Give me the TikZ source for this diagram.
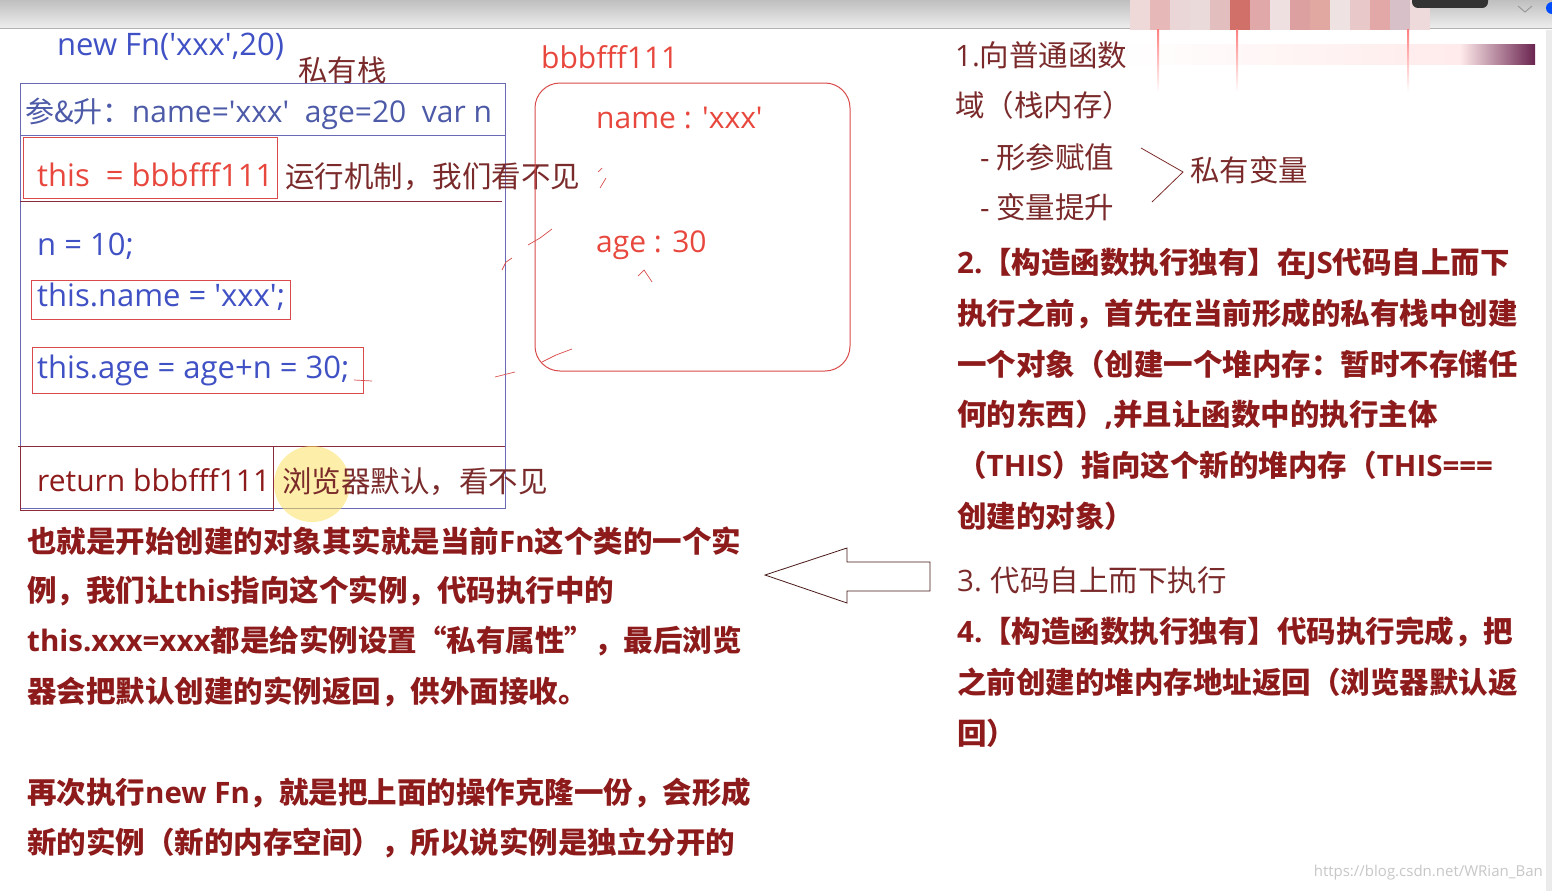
\documentclass[tikz,border=0pt]{standalone}
\usepackage{fontspec}
\setmainfont{Noto Sans CJK SC}
\newfontfamily\lat{Open Sans}
\usetikzlibrary{shadings}
\definecolor{blueT}{HTML}{3F51C4}
\definecolor{blueG}{HTML}{4D5AA8}
\definecolor{blueBox}{HTML}{6A6AB4}
\definecolor{redT}{HTML}{E8473D}
\definecolor{redBox}{HTML}{D94B4B}
\definecolor{darkred}{HTML}{8E1B1B}
\definecolor{brownT}{HTML}{7A2A2A}
\definecolor{lineDark}{HTML}{8B2A3A}
\definecolor{barEnd}{HTML}{6A2450}
\newcommand\sq{\textquotesingle}
\newcommand\lt[1]{{\lat #1}}
\tikzset{
  txt/.style={anchor=west, inner sep=0pt, font=\fontsize{29}{29}\selectfont},
  note/.style={txt, text=brownT, font=\fontsize{29.5}{29.5}\selectfont},
  bnote/.style={txt, text=darkred, font=\fontsize{29.5}{29.5}\selectfont\bfseries},
  code/.style={txt, text=blueT, font=\fontsize{31}{31}\selectfont\lat},
  obj/.style={txt, text=redT, font=\fontsize{30}{30}\selectfont\lat},
  scrib/.style={redBox, line width=0.7pt},
}
\begin{document}
\begin{tikzpicture}[x=1pt,y=-1pt]
\useasboundingbox (0,0) rectangle (1552,891);
\fill[white] (0,0) rectangle (1552,891);
% top bar
\shade[top color=black!25, bottom color=black!7] (0,0) rectangle (1552,28);
\draw[black!30] (0,28) -- (1552,28);
\foreach \x/\c in {1130/EFD8D8,1150/E6B8B8,1170/EAD6D6,1190/EADADA,1210/E2BEBE,1230/D07068,1250/E0A8A8,1270/EEE0E0,1290/DCA0A0,1310/E0A8A0,1330/EEE2E2,1350/E8C8C8,1370/E2A8A8,1390/D8C0C8,1410/EEDADA}{
  \definecolor{mc}{HTML}{\c}\fill[mc] (\x,0) rectangle ++(20,30);}
\fill[black!80,rounded corners=6pt] (1412,-10) rectangle (1488,8);
\draw[black!40,line width=1pt] (1518,6) -- (1525,12) -- (1532,6);
\fill[blue!70!cyan] (1552,8) circle (6);
\fill[black!8] (1546,30) rectangle (1552,891);
\shade[left color=white, right color=red!8!white] (1115,45) rectangle (1460,65);
\shade[left color=red!8!white, right color=barEnd] (1460,45) rectangle (1535,65);
\foreach \x in {1158,1237,1408}{\shade[top color=red!50, bottom color=white] (\x-1,30) rectangle (\x+1,92);}

% left stack
\node[code] (call) at (57,47) {new Fn(\sq xxx\sq,20)};
\node[note] (stk) at (298,70) {私有栈};
\coordinate (boxTL) at (20,83);
\coordinate (boxBR) at (505,508);
\draw[blueBox, line width=1pt] (boxTL) rectangle (boxBR);
\draw[blueBox, line width=1pt] (20,135) -- (505,135);
\node[txt, text=blueG] (args) at (25,114) {参\&升：\lt{\fontsize{30}{30}\selectfont name=\sq xxx\sq\ \ age=20\ \ var n}};
\node[draw=redBox, line width=1pt, minimum width=254pt, minimum height=61pt, anchor=north west, inner sep=0pt] (thisbox) at (23,137) {};
\node[obj, font=\fontsize{31}{31}\selectfont\lat] (this) at (37,175) {this\ \ = bbbfff111};
\node[note] (run) at (285,177) {运行机制，我们看不见};
\draw[lineDark, line width=1pt] (20,201) -- (502,201);
\node[code] (n10) at (37,246) {n = 10;};
\node[draw=redBox, line width=1pt, minimum width=259pt, minimum height=39pt, anchor=north west, inner sep=0pt] (nmbox) at (31,280) {};
\node[code] (nm) at (37,297) {this.name = \sq xxx\sq;};
\node[draw=redBox, line width=1pt, minimum width=331pt, minimum height=46pt, anchor=north west, inner sep=0pt] (agebox) at (32,347) {};
\node[code] (age) at (37,370) {this.age = age+n = 30;};
\draw[lineDark, line width=1pt] (18,446) -- (505,446);
\node[draw=lineDark, line width=1pt, minimum width=253pt, minimum height=64pt, anchor=north west, inner sep=0pt] (retbox) at (20,446) {};
\fill[yellow!70!orange!60, opacity=0.55] (312,484) circle (38);
\node[txt, text=darkred, font=\fontsize{30}{30}\selectfont\lat] (ret) at (37,480) {return bbbfff111};
\node[note] (brw) at (282,482) {浏览器默认，看不见};

% heap object
\node[obj] (addr) at (541,57) {bbbfff111};
\draw[redBox, line width=1pt, rounded corners=25pt] (535,83) rectangle (850,371);
\node[obj] (oname) at (596,118) {name : \sq xxx\sq};
\node[obj] (oage) at (596,245) {age : 30};

% scribbles
\draw[scrib] (600,188) -- (606,178);
\draw[scrib] (598,172) -- (602,168);
\draw[scrib] (528,245) -- (540,238) -- (552,229);
\draw[scrib] (502,270) -- (506,262) -- (512,258);
\draw[scrib] (542,362) -- (556,355) -- (572,349);
\draw[scrib] (495,377) -- (515,372);
\draw[scrib] (354,380) -- (372,381);
\draw[scrib] (638,276) -- (644,270) -- (652,282);

% right column
\node[note] (p1a) at (955,55) {\lt{1.}向普通函数};
\node[note] (p1b) at (955,105) {域（栈内存）};
\node[note] (p1c) at (980,157) {\lt{-} 形参赋值};
\node[note] (p1d) at (980,207) {\lt{-} 变量提升};
\coordinate (brA) at (1141,148);
\coordinate (brB) at (1183,172);
\coordinate (brC) at (1152,202);
\draw[brownT, line width=0.8pt] (brA) -- (brB) -- (brC);
\node[note] (priv) at (1190,170) {私有变量};

\node[bnote] (p2a) at (957,264) {\lt{2.}【构造函数执行独有】在\lt{JS}代码自上而下};
\node[bnote] (p2b) at (957,314) {执行之前，首先在当前形成的私有栈中创建};
\node[bnote] (p2c) at (957,364) {一个对象（创建一个堆内存：暂时不存储任};
\node[bnote] (p2d) at (957,415) {何的东西）\lt{,}并且让函数中的执行主体};
\node[bnote] (p2e) at (957,465) {（\lt{THIS}）指向这个新的堆内存（\lt{THIS===}};
\node[bnote] (p2f) at (957,516) {创建的对象）};
\node[note] (p3) at (957,580) {\lt{3.} 代码自上而下执行};
\node[bnote] (p4a) at (957,632) {\lt{4.}【构造函数执行独有】代码执行完成，把};
\node[bnote] (p4b) at (957,682) {之前创建的堆内存地址返回（浏览器默认返};
\node[bnote] (p4c) at (957,733) {回）};

% hollow arrow
\draw[brownT!60!black, line width=0.8pt, fill=white] (765,575) -- (847,548) -- (847,562) -- (930,562) -- (930,591) -- (847,591) -- (847,603) -- cycle;

% left bottom notes
\node[bnote] (l1) at (27,541) {也就是开始创建的对象其实就是当前\lt{Fn}这个类的一个实};
\node[bnote] (l2) at (27,591) {例，我们让\lt{this}指向这个实例，代码执行中的};
\node[bnote] (l3) at (27,641) {\lt{this.xxx=xxx}都是给实例设置“私有属性”，最后浏览};
\node[bnote] (l4) at (27,692) {器会把默认创建的实例返回，供外面接收。};
\node[bnote] (l5) at (27,793) {再次执行\lt{new Fn}，就是把上面的操作克隆一份，会形成};
\node[bnote] (l6) at (27,843) {新的实例（新的内存空间），所以说实例是独立分开的};

\node[txt, anchor=east, text=black!22, font=\fontsize{15}{15}\selectfont\lat] (wm) at (1543,873) {https://blog.csdn.net/WRian\_Ban};
\end{tikzpicture}
\end{document}
